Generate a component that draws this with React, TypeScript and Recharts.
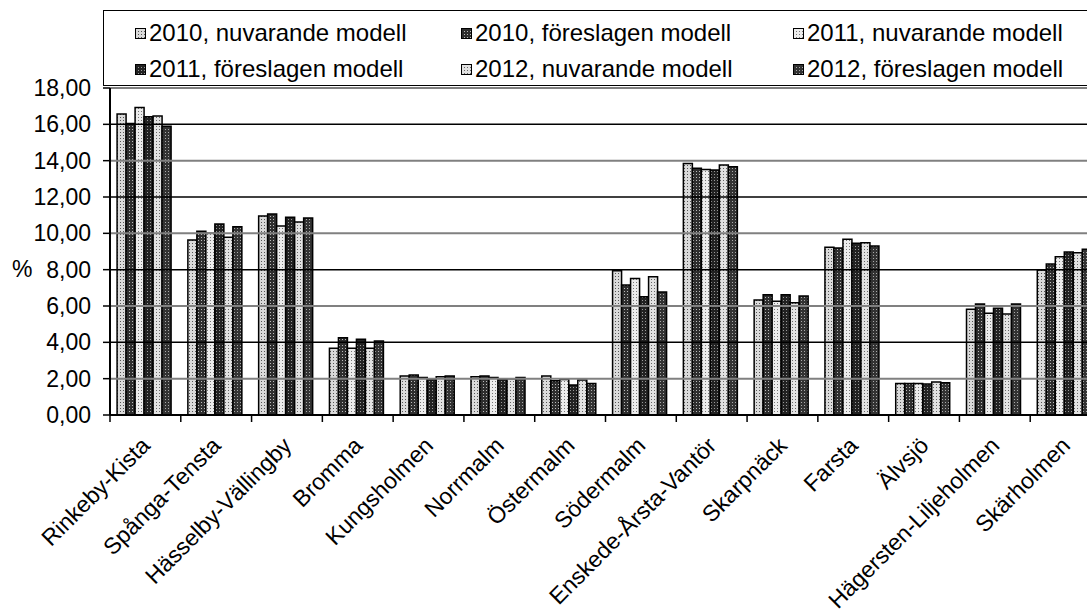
import React from 'react';
import { BarChart, Bar, XAxis, YAxis, ReferenceLine } from 'recharts';

const categories = [
  'Rinkeby-Kista', 'Spånga-Tensta', 'Hässelby-Vällingby', 'Bromma', 'Kungsholmen',
  'Norrmalm', 'Östermalm', 'Södermalm', 'Enskede-Årsta-Vantör', 'Skarpnäck',
  'Farsta', 'Älvsjö', 'Hägersten-Liljeholmen', 'Skärholmen',
];

const nuv2010 = [16.57, 9.63, 10.95, 3.67, 2.15, 2.11, 2.15, 7.94, 13.85, 6.33, 9.23, 1.74, 5.82, 7.98];
const for2010 = [16.05, 10.11, 11.06, 4.25, 2.2, 2.15, 1.89, 7.15, 13.58, 6.62, 9.19, 1.74, 6.11, 8.31];
const nuv2011 = [16.93, 10.0, 10.4, 3.67, 2.07, 2.07, 1.96, 7.52, 13.52, 6.26, 9.67, 1.74, 5.6, 8.71];
const for2011 = [16.42, 10.51, 10.88, 4.17, 1.96, 1.96, 1.65, 6.51, 13.48, 6.62, 9.45, 1.7, 5.87, 8.97];
const nuv2012 = [16.46, 9.78, 10.62, 3.67, 2.11, 2.0, 1.93, 7.61, 13.76, 6.18, 9.48, 1.82, 5.56, 8.93];
const for2012 = [15.9, 10.36, 10.84, 4.07, 2.15, 2.07, 1.74, 6.77, 13.67, 6.55, 9.3, 1.78, 6.11, 9.12];

const yTicks = [0, 2, 4, 6, 8, 10, 12, 14, 16, 18];

const series = [
  { key: 'n2010', name: '2010, nuvarande modell', values: nuv2010, fill: 'url(#pN2010)' },
  { key: 'f2010', name: '2010, föreslagen modell', values: for2010, fill: 'url(#pF2010)' },
  { key: 'n2011', name: '2011, nuvarande modell', values: nuv2011, fill: 'url(#pN2011)' },
  { key: 'f2011', name: '2011, föreslagen modell', values: for2011, fill: 'url(#pF2011)' },
  { key: 'n2012', name: '2012, nuvarande modell', values: nuv2012, fill: 'url(#pN2012)' },
  { key: 'f2012', name: '2012, föreslagen modell', values: for2012, fill: 'url(#pF2012)' },
];

const data = categories.map((name, i) => {
  const row: Record<string, number | string> = { name };
  series.forEach(s => { row[s.key] = s.values[i]; });
  return row;
});

const FONT = '"Liberation Sans", Arial, sans-serif';
const CHART_W = 1110;
const CHART_H = 616;
const Y_AXIS_W = 110;
const MARGIN = { top: 88, right: 9, left: 0, bottom: 0 };
const BAND = (CHART_W - Y_AXIS_W - MARGIN.left - MARGIN.right) / categories.length;

const fmt = (v: number) => v.toFixed(2).replace('.', ',');

const Patterns = () => (
  <svg width={0} height={0} style={{ position: 'absolute' }}>
    <defs>
      <pattern id="pN2010" width={3} height={3} patternUnits="userSpaceOnUse">
        <rect width={3} height={3} fill="#dadada" />
        <rect width={1} height={1} fill="#555" />
      </pattern>
      <pattern id="pN2011" width={3} height={3} patternUnits="userSpaceOnUse">
        <rect width={3} height={3} fill="#ececec" />
        <rect width={1} height={1} fill="#777" />
      </pattern>
      <pattern id="pN2012" width={3} height={3} patternUnits="userSpaceOnUse">
        <rect width={3} height={3} fill="#e2e2e2" />
        <rect width={1} height={1} fill="#666" />
      </pattern>
      <pattern id="pF2010" width={3} height={3} patternUnits="userSpaceOnUse">
        <rect width={3} height={3} fill="#2e2e2e" />
        <rect width={1} height={1} fill="#bbb" />
      </pattern>
      <pattern id="pF2011" width={3} height={3} patternUnits="userSpaceOnUse">
        <rect width={3} height={3} fill="#222" />
        <rect width={1} height={1} fill="#999" />
      </pattern>
      <pattern id="pF2012" width={3} height={3} patternUnits="userSpaceOnUse">
        <rect width={3} height={3} fill="#333" />
        <rect width={1} height={1} fill="#aaa" />
      </pattern>
    </defs>
  </svg>
);

const CategoryTick = (props: any) => {
  const { x, y, payload, index } = props;
  const left = x - BAND / 2;
  return (
    <g>
      <line x1={left} y1={y} x2={left} y2={y + 7} stroke="#000" strokeWidth={1.5} />
      {index === categories.length - 1 && (
        <line x1={left + BAND} y1={y} x2={left + BAND} y2={y + 7} stroke="#000" strokeWidth={1.5} />
      )}
      <text
        x={x + 6}
        y={y + 32}
        textAnchor="end"
        fontSize={23}
        fontFamily={FONT}
        fill="#000"
        transform={`rotate(-45, ${x + 6}, ${y + 32})`}
      >
        {payload.value}
      </text>
    </g>
  );
};

const legendCols = [134, 460, 792];
const legendRows = [32, 68];

const LegendBox = () => (
  <div
    style={{
      position: 'absolute',
      left: 103,
      top: 10,
      width: 1010,
      height: 76,
      border: '1.5px solid #000',
      background: '#fff',
      boxSizing: 'border-box',
    }}
  >
    {series.map((s, i) => {
      const col = i % 3;
      const row = Math.floor(i / 3);
      return (
        <div
          key={s.key}
          style={{
            position: 'absolute',
            left: legendCols[col] - 103,
            top: legendRows[row] - 10 - 15,
            height: 30,
            display: 'flex',
            alignItems: 'center',
            fontFamily: FONT,
            fontSize: 24,
            whiteSpace: 'nowrap',
            color: '#000',
          }}
        >
          <svg width={11} height={11} style={{ marginRight: 3 }}>
            <rect x={0.5} y={0.5} width={10} height={10} fill={s.fill} stroke="#000" strokeWidth={1} />
          </svg>
          {s.name}
        </div>
      );
    })}
  </div>
);

export default function App() {
  return (
    <div
      style={{
        position: 'fixed',
        left: 0,
        top: 0,
        width: 1087,
        height: 616,
        overflow: 'hidden',
        background: '#fff',
      }}
    >
      <Patterns />
      <BarChart
        width={CHART_W}
        height={CHART_H}
        data={data}
        margin={MARGIN}
        barGap={0}
        barCategoryGap="10%"
      >
        {yTicks.filter(v => v > 0).map(v => (
          <ReferenceLine
            key={v}
            y={v}
            stroke={v % 4 === 0 ? '#000' : '#808080'}
            strokeWidth={v % 4 === 0 ? 1.5 : 2}
            ifOverflow="extendDomain"
          />
        ))}
        <XAxis
          dataKey="name"
          interval={0}
          height={201}
          tickLine={false}
          tickSize={0}
          tickMargin={0}
          axisLine={{ stroke: '#000', strokeWidth: 2 }}
          tick={<CategoryTick />}
        />
        <YAxis
          width={Y_AXIS_W}
          domain={[0, 18]}
          ticks={yTicks}
          interval={0}
          tickFormatter={fmt}
          tickSize={7}
          tickMargin={12}
          axisLine={{ stroke: '#000', strokeWidth: 2 }}
          tickLine={{ stroke: '#000', strokeWidth: 1.5 }}
          tick={{ fill: '#000', fontSize: 23, fontFamily: FONT }}
          label={{
            content: () => (
              <text x={12} y={277} fontSize={23} fontFamily={FONT} fill="#000">
                %
              </text>
            ),
          }}
        />
        {series.map(s => (
          <Bar
            key={s.key}
            dataKey={s.key}
            name={s.name}
            fill={s.fill}
            stroke="#000"
            strokeWidth={1.5}
            isAnimationActive={false}
          />
        ))}
      </BarChart>
      <LegendBox />
    </div>
  );
}
